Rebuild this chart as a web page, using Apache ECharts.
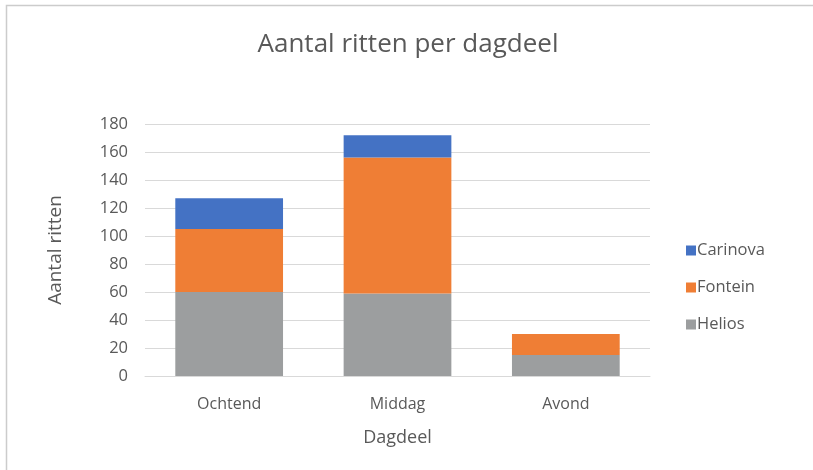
<!DOCTYPE html>
<html>
<head>
<meta charset="utf-8">
<script src="https://cdn.jsdelivr.net/npm/echarts@6/dist/echarts.min.js"></script>
<style>
html,body{margin:0;padding:0;background:#fff;}
#c{position:absolute;left:0;top:0;width:813px;height:470px;}
</style>
</head>
<body>
<div id="c"></div>
<script>
const categories = ['Ochtend', 'Middag', 'Avond'];
const helios = [60, 59, 15];
const fontein = [45, 97, 15];
const carinova = [22, 16, 0];
const yTicks = [0, 20, 40, 60, 80, 100, 120, 140, 160, 180];

const chart = echarts.init(document.getElementById('c'), null, {renderer: 'canvas'});
const txt = '#595959';
const font = "'Open Sans', 'Liberation Sans', sans-serif";
chart.setOption({
  animation: false,
  title: {
    text: 'Aantal ritten per dagdeel',
    left: 403, textAlign: 'center', top: 27,
    textStyle: {fontFamily: font, fontSize: 26, fontWeight: 'normal', color: txt}
  },
  graphic: [{
    type: 'polyline', shape: {points: [[6.5, 470], [6.5, 5.5], [813, 5.5]]},
    style: {fill: 'none', stroke: '#cccccc', lineWidth: 1.5}, silent: true, z: -1
  }],
  legend: {
    orient: 'vertical', left: 681, top: 237, itemGap: 20,
    itemWidth: 10, itemHeight: 10, icon: 'rect',
    data: ['Carinova', 'Fontein', 'Helios'],
    textStyle: {fontFamily: font, fontSize: 16.5, color: txt, padding: [0, 0, 0, -4]}
  },
  grid: {left: 145, right: 163, top: 124, bottom: 94, containLabel: false},
  xAxis: {
    type: 'category', data: categories,
    name: 'Dagdeel', nameLocation: 'middle', nameGap: 53,
    nameTextStyle: {fontFamily: font, fontSize: 18, color: txt},
    axisLine: {lineStyle: {color: '#d9d9d9'}},
    axisTick: {show: false},
    axisLabel: {fontFamily: font, fontSize: 16, color: txt, margin: 20}
  },
  yAxis: {
    type: 'value', min: yTicks[0], max: yTicks[yTicks.length - 1], interval: 20,
    name: 'Aantal ritten', nameLocation: 'middle', nameGap: 80,
    nameTextStyle: {fontFamily: font, fontSize: 19, color: txt},
    axisLine: {show: false}, axisTick: {show: false},
    splitLine: {lineStyle: {color: '#d9d9d9', width: 1}},
    axisLabel: {fontFamily: font, fontSize: 16.5, color: txt, margin: 17}
  },
  series: [
    {name: 'Helios', type: 'bar', stack: 's', data: helios, barWidth: '64%', itemStyle: {color: '#9C9E9F'}},
    {name: 'Fontein', type: 'bar', stack: 's', data: fontein, itemStyle: {color: '#EF7E35'}},
    {name: 'Carinova', type: 'bar', stack: 's', data: carinova, itemStyle: {color: '#4472C4'}}
  ]
});
</script>
</body>
</html>
